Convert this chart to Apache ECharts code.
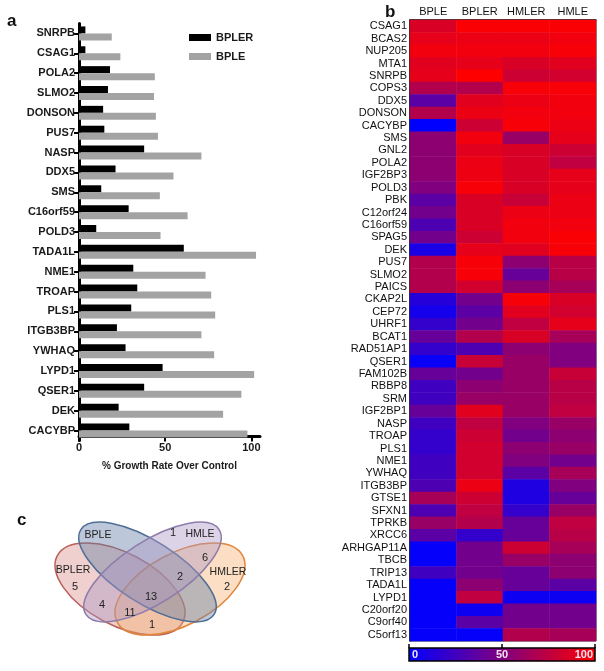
<!DOCTYPE html>
<html><head><meta charset="utf-8">
<script src="https://cdn.jsdelivr.net/npm/echarts@6/dist/echarts.min.js"></script>
<style>html,body{margin:0;padding:0;background:#fff}#c{width:604px;height:671px}</style>
</head><body><div id="c"></div>
<script>
// ---- Panel a: growth rate bars ----
const barGenes = ['SNRPB','CSAG1','POLA2','SLMO2','DONSON','PUS7','NASP','DDX5','SMS','C16orf59','POLD3','TADA1L','NME1','TROAP','PLS1','ITGB3BP','YWHAQ','LYPD1','QSER1','DEK','CACYBP'];
const barBPLER = [3.7,3.7,18,16.8,14,14.7,37.8,21.2,12.9,28.8,10,60.8,31.5,33.8,30.3,22,27,48.5,37.8,23,29.2];
const barBPLE  = [19,24,44,43.5,44.6,45.8,71,54.8,46.9,63,47.3,102.7,73.4,76.7,79,71,78.4,101.6,94.2,83.6,97.7];
const barTicks = [0,50,100];

// ---- Panel b: heatmap ----
const cellLines = ['BPLE','BPLER','HMLER','HMLE'];
const heatGenes = ['CSAG1','BCAS2','NUP205','MTA1','SNRPB','COPS3','DDX5','DONSON','CACYBP','SMS','GNL2','POLA2','IGF2BP3','POLD3','PBK','C12orf24','C16orf59','SPAG5','DEK','PUS7','SLMO2','PAICS','CKAP2L','CEP72','UHRF1','BCAT1','RAD51AP1','QSER1','FAM102B','RBBP8','SRM','IGF2BP1','NASP','TROAP','PLS1','NME1','YWHAQ','ITGB3BP','GTSE1','SFXN1','TPRKB','XRCC6','ARHGAP11A','TBCB','TRIP13','TADA1L','LYPD1','C20orf20','C9orf40','C5orf13'];
const heatBPLE  = [85,90,95,88,90,70,35,70,0,55,55,55,55,50,35,45,30,45,10,70,70,70,15,8,20,40,20,3,40,25,25,40,25,20,20,25,25,30,65,30,60,35,2,2,25,2,2,2,2,2];
const heatBPLER = [98,92,95,90,100,70,88,92,80,95,88,92,93,97,85,85,85,80,90,97,97,82,45,35,45,70,30,78,45,55,60,88,75,80,82,82,82,92,80,75,70,20,45,45,45,55,75,5,35,2];
const heatHMLER = [98,92,95,85,80,97,92,95,97,60,85,85,85,85,78,92,95,95,88,55,40,55,97,88,75,85,55,60,60,60,60,60,50,45,55,50,35,12,12,20,40,40,80,60,40,40,5,45,45,70];
const heatHMLE  = [98,95,97,88,82,97,95,95,92,90,80,75,90,90,92,92,95,98,97,72,72,65,85,82,90,65,50,50,78,72,72,75,60,55,60,45,65,50,40,60,75,72,65,55,55,35,5,45,45,65];
const colorbarTicks = [0,50,100];

// ---- Panel c: Venn counts ----
const vennSets = ['BPLE','HMLE','BPLER','HMLER'];
const vennCounts = [1,5,6,2,2,13,4,11,1];

const heatData = [];
const cols = [heatBPLE, heatBPLER, heatHMLER, heatHMLE];
cols.forEach((arr, ci) => arr.forEach((v, ri) => heatData.push([ci, ri, v])));

// Venn layout (positions only)
const vennEllipses = [
  {cx:120, cy:589, rx:71, ry:36, rot:-28, fill:'rgba(210,125,118,0.36)', stroke:'#b8605a'},
  {cx:180, cy:589, rx:71, ry:36, rot:28, fill:'rgba(246,172,105,0.40)', stroke:'#e0853a'},
  {cx:147.5, cy:572, rx:79, ry:31, rot:-32.5, fill:'rgba(95,125,165,0.42)', stroke:'#4f6d96'},
  {cx:152.5, cy:572, rx:79, ry:31, rot:32.5, fill:'rgba(172,150,195,0.42)', stroke:'#8d7cab'}
];
const vennSetPos = [[98,535],[200,534],[73,570],[228,572]];
const vennCountPos = [[173,533],[75,587],[205,558],[227,587],[180,577],[151,597],[102,605],[130,613],[152,625]];

const graphics = [];
graphics.push({type:'text', left:7, top:13, style:{text:'a', font:'bold 17px "Liberation Sans", Arial', fill:'#111'}});
graphics.push({type:'text', left:385, top:4, style:{text:'b', font:'bold 17px "Liberation Sans", Arial', fill:'#111'}});
graphics.push({type:'text', left:17, top:512, style:{text:'c', font:'bold 17px "Liberation Sans", Arial', fill:'#111'}});
vennEllipses.forEach(e => graphics.push({type:'ellipse', x:e.cx, y:e.cy, rotation:e.rot*Math.PI/180, shape:{cx:0, cy:0, rx:e.rx, ry:e.ry}, style:{fill:e.fill, stroke:e.stroke, lineWidth:1.5}, z:10}));
vennSets.forEach((s,i) => graphics.push({type:'text', x:vennSetPos[i][0], y:vennSetPos[i][1], z:20, style:{text:s, font:'10.5px "Liberation Sans", Arial', fill:'#222', align:'center', verticalAlign:'middle'}}));
vennCounts.forEach((n,i) => graphics.push({type:'text', x:vennCountPos[i][0], y:vennCountPos[i][1], z:20, style:{text:String(n), font:'11px "Liberation Sans", Arial', fill:'#222', align:'center', verticalAlign:'middle'}}));
// colorbar
const cbX = 409, cbW = 186, cbY = 648, cbH = 13;
graphics.push({type:'rect', shape:{x:cbX, y:cbY, width:cbW, height:cbH}, z:5,
  style:{fill:new echarts.graphic.LinearGradient(0,0,1,0,[{offset:0,color:'#0000ff'},{offset:0.5,color:'#80007f'},{offset:1,color:'#ff0000'}]), stroke:'#000', lineWidth:1.5}});
colorbarTicks.forEach((t,i) => {
  const x = cbX + t/100*cbW;
  graphics.push({type:'line', shape:{x1:x, y1:cbY-4, x2:x, y2:cbY}, style:{stroke:'#000', lineWidth:1.5}, z:6});
  graphics.push({type:'text', x: i===0 ? x+3 : (i===colorbarTicks.length-1 ? x-2 : x), y: cbY+cbH/2+0.5, z:7,
    style:{text:String(t), font:'bold 11px "Liberation Sans", Arial', fill:'#f4e4f4', align: i===0?'left':(i===colorbarTicks.length-1?'right':'center'), verticalAlign:'middle'}});
});

const chart = echarts.init(document.getElementById('c'), null, {renderer:'canvas'});
const barFont = {fontFamily:'"Liberation Sans", Arial', fontWeight:'bold', fontSize:11, color:'#1a1a1a'};
chart.setOption({
  animation:false,
  backgroundColor:'#fff',
  legend:{data:['BPLER','BPLE'], orient:'vertical', left:184, top:27, itemWidth:22, itemHeight:7, itemGap:8, icon:'rect',
    textStyle:{fontFamily:'"Liberation Sans", Arial', fontWeight:'bold', fontSize:11, color:'#1a1a1a'}},
  grid:[
    {left:79, top:23.5, width:181, height:417, containLabel:false},
    {left:410, top:20, width:186, height:621, show:true, borderColor:'#222', borderWidth:1}
  ],
  xAxis:[
    {gridIndex:0, type:'value', min:0, max:105, interval:50, offset:-4,
      axisLine:{show:true, lineStyle:{color:'#000', width:3}},
      axisTick:{show:true, length:5, lineStyle:{color:'#000', width:2}, customValues:barTicks},
      axisLabel:{...barFont, margin:6, customValues:barTicks},
      splitLine:{show:false},
      name:'% Growth Rate Over Control', nameLocation:'middle', nameGap:25,
      nameTextStyle:{fontFamily:'"Liberation Sans", Arial', fontWeight:'bold', fontSize:10, color:'#1a1a1a'}},
    {gridIndex:1, type:'category', data:cellLines, position:'top',
      axisLine:{show:true, lineStyle:{color:'#222', width:1.5}}, axisTick:{show:false},
      axisLabel:{fontFamily:'"Liberation Sans", Arial', fontSize:11, color:'#111', margin:3, interval:0}}
  ],
  yAxis:[
    {gridIndex:0, type:'category', data:barGenes, inverse:true,
      axisLine:{show:true, lineStyle:{color:'#000', width:3}},
      axisTick:{show:true, alignWithLabel:true, length:5, lineStyle:{color:'#000', width:2}},
      axisLabel:{...barFont, margin:4, interval:0}},
    {gridIndex:1, type:'category', data:heatGenes, inverse:true,
      axisLine:{show:true, lineStyle:{color:'#111', width:1.5}}, axisTick:{show:false},
      axisLabel:{fontFamily:'"Liberation Sans", Arial', fontSize:11, color:'#111', margin:3, interval:0}}
  ],
  visualMap:{show:false, type:'continuous', min:0, max:100, seriesIndex:2, inRange:{color:['#0000ff','#80007f','#ff0000']}},
  series:[
    {name:'BPLER', type:'bar', xAxisIndex:0, yAxisIndex:0, data:barBPLER, barWidth:7, barGap:'0%', itemStyle:{color:'#000'}},
    {name:'BPLE', type:'bar', xAxisIndex:0, yAxisIndex:0, data:barBPLE, barWidth:7, barGap:'0%', itemStyle:{color:'#a3a3a3'}},
    {name:'heat', type:'heatmap', xAxisIndex:1, yAxisIndex:1, data:heatData, itemStyle:{borderWidth:0}}
  ],
  graphic:graphics
});
</script></body></html>
